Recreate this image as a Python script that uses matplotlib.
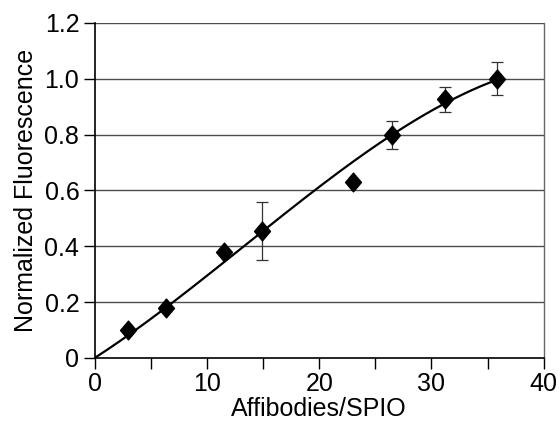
import numpy as np
import matplotlib
matplotlib.use("Agg")
import matplotlib.pyplot as plt
from matplotlib.ticker import MultipleLocator, FixedLocator
from matplotlib.path import Path

plt.rcParams['font.family'] = ['Liberation Sans', 'DejaVu Sans']

# data
x_vals = [3.0, 6.4, 11.5, 14.9, 23.0, 26.5, 31.2, 35.8]
y_vals = [0.100, 0.179, 0.379, 0.455, 0.630, 0.799, 0.926, 1.001]
y_err = [0.0, 0.0, 0.0, 0.103, 0.0, 0.051, 0.045, 0.060]

# points on the trendline
trend_x = [0.0, 6.45, 13.0, 17.75, 20.4, 22.7, 26.5, 31.2, 35.8]
trend_y = [0.0, 0.180, 0.403, 0.540, 0.620, 0.686, 0.800, 0.925, 0.990]

y_ticks = [0, 0.2, 0.4, 0.6, 0.8, 1.0, 1.2]
y_tick_labels = ["0", "0.2", "0.4", "0.6", "0.8", "1.0", "1.2"]
x_ticks = [0, 10, 20, 30, 40]

fig = plt.figure(figsize=(5.6, 4.23), dpi=100)
ax = fig.add_axes([0.169, 0.1537, 0.802, 0.792])

# cubic trendline through the origin fitted to the read trendline points
TX = np.array(trend_x)
TY = np.array(trend_y)
A = np.vstack([TX, TX**2, TX**3]).T
coef, *_ = np.linalg.lstsq(A, TY, rcond=None)
xf = np.linspace(0, max(trend_x), 200)
yf = coef[0]*xf + coef[1]*xf**2 + coef[2]*xf**3

for yt in y_ticks[1:]:
    ax.axhline(yt, color='#4d4d4d', lw=1.0, zorder=1)

diamond = Path([(0, 1), (0.85, 0), (0, -1), (-0.85, 0), (0, 1)],
               [Path.MOVETO, Path.LINETO, Path.LINETO, Path.LINETO, Path.CLOSEPOLY])

ax.plot(xf, yf, color='black', lw=1.6, zorder=3)
ax.errorbar(x_vals, y_vals, yerr=y_err, fmt='none', ecolor='#333333',
            elinewidth=0.9, capsize=4, capthick=0.9, zorder=2)
ax.plot(x_vals, y_vals, linestyle='none', marker=diamond, color='black',
        markersize=13.5, zorder=4, clip_on=False)

ax.set_xlim(0, 40)
ax.set_ylim(0, 1.2)
ax.set_yticks(y_ticks)
ax.set_yticklabels(y_tick_labels)
ax.xaxis.set_major_locator(FixedLocator(x_ticks))
ax.xaxis.set_minor_locator(MultipleLocator(5))

for s in ['left', 'bottom']:
    ax.spines[s].set_color('black')
    ax.spines[s].set_linewidth(1.2)
ax.spines['top'].set_visible(False)
ax.spines['right'].set_color('#666666')
ax.spines['right'].set_linewidth(1.0)

ax.tick_params(axis='both', which='both', direction='out', length=8, width=1.0,
               color='black', labelsize=18)
ax.tick_params(axis='x', which='minor', length=8)
ax.tick_params(axis='y', pad=3)
ax.tick_params(axis='x', pad=2)

ax.set_xlabel('Affibodies/SPIO', fontsize=18, labelpad=1)
ax.set_ylabel('Normalized Fluorescence', fontsize=18, labelpad=5)

fig.savefig('out.png', dpi=100)
